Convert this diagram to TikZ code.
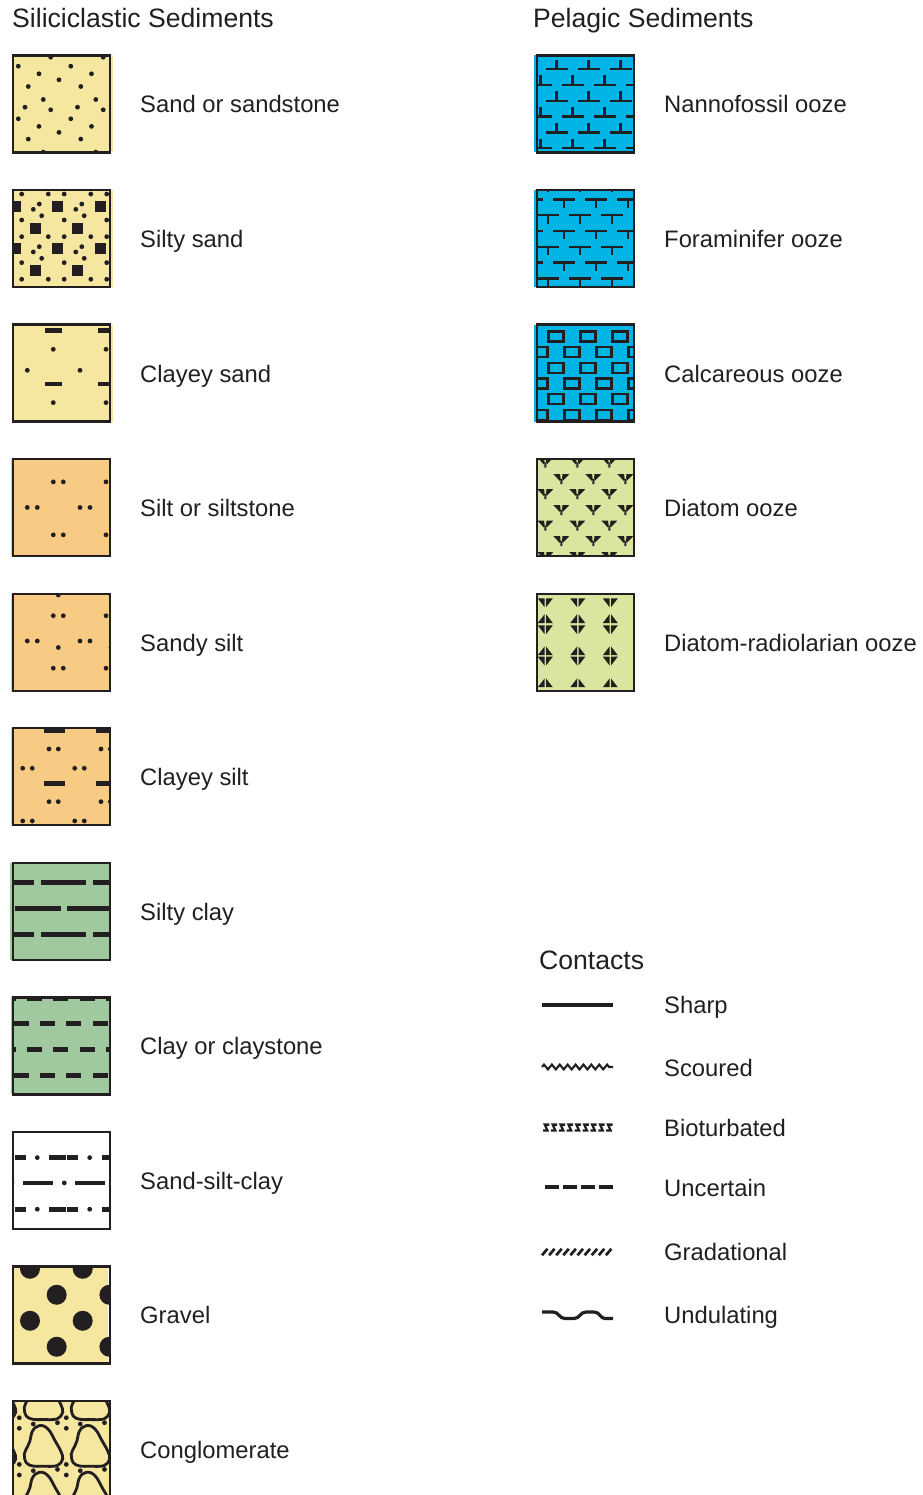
\documentclass[tikz,border=0pt]{standalone}
\usepackage{fontspec}
\setmainfont{Liberation Sans}
\usetikzlibrary{decorations.pathmorphing}
\definecolor{ink}{RGB}{35,31,32}
\definecolor{sandY}{RGB}{246,231,160}
\definecolor{siltO}{RGB}{248,203,133}
\definecolor{clayG}{RGB}{161,201,159}
\definecolor{oozeB}{RGB}{0,180,230}
\definecolor{diatG}{RGB}{218,230,160}
\tikzset{
 sym/.style={draw=ink, line width=2.4pt},
 frame/.style={draw=ink, line width=2.3pt, minimum width=97pt, minimum height=97pt, inner sep=0pt, outer sep=0pt},
 lbl/.style={anchor=base west, inner sep=0pt, font=\fontsize{23.8}{28}\selectfont, text=ink},
 hdr/.style={anchor=base west, inner sep=0pt, font=\fontsize{26.6}{31}\selectfont, text=ink},
}
\newcommand\dt[2]{\fill[ink] (#1,#2) circle (2.4pt);}
\newcommand\sqb[2]{\fill[ink] (#1-5.5,#2-5.5) rectangle ++(11,11);}
\newcommand\hb[4]{\fill[ink] (#1-#3/2,#2-#4/2) rectangle ++(#3,#4);}
\newcommand\tiled[3]{\foreach \tI in {-1,0,1,2}{\foreach \tJ in {-1,0,1,2}{\begin{scope}[shift={(\tI*#1,\tJ*#2)}]#3\end{scope}}}}
\newcommand\mkswatch[6]{%
 \begin{scope}[shift={(#2,#3)}]
  \fill[#4] #5;
  \begin{scope}
   \clip (0,0) rectangle (97,97);
   #6
  \end{scope}
  \node[frame] (#1) at (48.5,48.5) {};
 \end{scope}}
\newcommand\blob[2]{\draw[ink, line width=2.8pt, shift={(#1,#2)}, scale=1.06] plot[smooth cycle, tension=0.6] coordinates {(-4,-19) (1,-18.5) (6,-14) (11,-5) (16.5,5) (18.3,12.5) (13,18.7) (0,19.3) (-10,19) (-16,16) (-18,8) (-15,1) (-12.5,-5) (-11,-12) (-8,-17)};}
\newcommand\invT[2]{\draw[sym] (#1-11,#2) -- (#1+11,#2) (#1,#2) -- (#1,#2-9.5);}
\newcommand\Tee[2]{\draw[sym] (#1-11,#2) -- (#1+11,#2) (#1,#2) -- (#1,#2+8.5);}
\newcommand\crect[2]{\draw[sym] (#1-7.5,#2-5) rectangle (#1+7.5,#2+5);}
\newcommand\diat[2]{\fill[ink] (#1-8,#2) -- (#1-1.2,#2) -- (#1-0.3,#2+8) -- cycle (#1+1.2,#2) -- (#1+8,#2) -- (#1+0.3,#2+8) -- cycle (#1-1,#2+5) rectangle (#1+1,#2+10);}
\newcommand\vdn[2]{\fill[ink] (#1-7.5,#2) -- (#1-0.7,#2) -- (#1-0.7,#2+8.8) -- cycle (#1+0.7,#2) -- (#1+7.5,#2) -- (#1+0.7,#2+8.8) -- cycle;}
\newcommand\vup[2]{\fill[ink] (#1-7.5,#2) -- (#1-0.7,#2) -- (#1-0.7,#2-8.8) -- cycle (#1+0.7,#2) -- (#1+7.5,#2) -- (#1+0.7,#2-8.8) -- cycle;}
\begin{document}
\begin{tikzpicture}[x=1pt,y=-1pt]
\useasboundingbox (0,0) rectangle (922,1495);
\fill[white] (0,0) rectangle (922,1495);
% headers
\node[hdr] (hsil) at (12,27.5) {Siliciclastic Sediments};
\node[hdr] (hpel) at (533,27.5) {Pelagic Sediments};
\node[hdr] (hcon) at (539,969.5) {Contacts};
% ---------- left column ----------
\mkswatch{sand}{13}{55.5}{sandY}{(0,0) rectangle (99.5,97)}{\tiled{52.5}{52.6}{\dt{37.7}{1.7}\dt{5.3}{10.7}\dt{26}{18.3}\dt{46}{24.3}\dt{15.3}{31}\dt{30.3}{44}\dt{12}{51.7}}}
\node[lbl] (lsand) at (140,113) {Sand or sandstone};
\mkswatch{siltysand}{13}{190.05}{sandY}{(0,0) rectangle (99.5,97)}{\tiled{42.5}{42.6}{\sqb{2}{16}\sqb{22}{38.3}\dt{8.7}{4}\dt{35.3}{4}\dt{26.3}{14}\dt{20.3}{19.3}\dt{28.7}{25.7}\dt{8.7}{30}}}
\node[lbl] (lsiltysand) at (140,247.55) {Silty sand};
\mkswatch{clayeysand}{13}{324.6}{sandY}{(0,0) rectangle (99.5,97)}{\tiled{52.7}{53.3}{\hb{40.3}{6}{17}{4.8}\dt{40.3}{24.7}\dt{14.3}{45.7}}}
\node[lbl] (lclayeysand) at (140,382.1) {Clayey sand};
\mkswatch{silt}{13}{459.15}{siltO}{(-2,0) rectangle (97,97)}{\tiled{52.7}{53}{\dt{40.3}{22.7}\dt{50.3}{22.7}\dt{14.3}{48.3}\dt{24.3}{48.3}}}
\node[lbl] (lsilt) at (140,516.65) {Silt or siltstone};
\mkswatch{sandysilt}{13}{593.7}{siltO}{(-2,0) rectangle (97,97)}{\tiled{52.7}{52.5}{\dt{40.3}{22}\dt{50.3}{22}\dt{14.3}{47.3}\dt{24.3}{47.3}\dt{45.3}{1.3}}}
\node[lbl] (lsandysilt) at (140,651.2) {Sandy silt};
\mkswatch{clayeysilt}{13}{728.25}{siltO}{(-2,0) rectangle (97,97)}{\tiled{52}{52.7}{\hb{41.2}{2.3}{21}{4.8}\dt{36}{20.7}\dt{45.3}{20.7}\dt{9.7}{40}\dt{19.3}{40}}}
\node[lbl] (lclayeysilt) at (140,785.75) {Clayey silt};
\mkswatch{siltyclay}{13}{862.8}{clayG}{(-3,0) rectangle (97,97)}{\foreach \k in {-1,0,1}{\hb{50.5+52*\k}{20}{45.4}{4.8}\hb{50.5+52*\k}{72}{45.4}{4.8}\hb{25+52*\k}{46}{45.4}{4.8}}}
\node[lbl] (lsiltyclay) at (140,920.3) {Silty clay};
\mkswatch{clay}{13}{997.35}{clayG}{(-2,0) rectangle (97,97)}{\foreach \k in {-1,...,4}{\hb{21.5+26.4*\k}{1}{15}{4.8}\hb{21.5+26.4*\k}{52.3}{15}{4.8}\hb{8+26.4*\k}{26}{15}{4.8}\hb{8+26.4*\k}{78.5}{15}{4.8}}}
\node[lbl] (lclay) at (140,1054.85) {Clay or claystone};
\mkswatch{ssc}{13}{1131.9}{white}{(0,0) rectangle (97,97)}{\foreach \k in {-1,0,1}{\hb{44.65+52.4*\k}{25.7}{16.7}{4.8}\hb{59.8+52.4*\k}{25.7}{11}{4.8}\dt{24.3+52.4*\k}{25.7}\hb{44.65+52.4*\k}{77.3}{16.7}{4.8}\hb{59.8+52.4*\k}{77.3}{11}{4.8}\dt{24.3+52.4*\k}{77.3}\hb{24.7+52.4*\k}{51}{30}{4.8}\dt{51.3+52.4*\k}{51}}}
\node[lbl] (lssc) at (140,1189.4) {Sand-silt-clay};
\mkswatch{gravel}{13}{1266.45}{sandY}{(0,0) rectangle (95,97)}{\tiled{52.7}{52}{\fill[ink] (17,2.3) circle (10pt); \fill[ink] (43.7,28.3) circle (10pt);}}
\node[lbl] (lgravel) at (140,1323.95) {Gravel};
\mkswatch{cong}{13}{1401}{sandY}{(0,0) rectangle (97,97)}{\tiled{47}{46.7}{\blob{30.3}{-1.9}\dt{6.3}{16.7}\dt{6.3}{27.3}\dt{20.3}{23}\dt{44.5}{21.7}}}
\node[lbl] (lcong) at (140,1458.5) {Conglomerate};
% ---------- right column ----------
\mkswatch{nanno}{537.3}{55.5}{oozeB}{(-3.3,0) rectangle (97,97)}{\foreach \r in {0,2,4}{\foreach \k in {0,1,2}{\invT{19.3+32*\k}{13.7+15.8*\r}}}\foreach \r in {1,3,5}{\foreach \k in {0,1,2,3}{\invT{3.3+32*\k}{13.7+15.8*\r}}}}
\node[lbl] (lnanno) at (664,113) {Nannofossil ooze};
\mkswatch{foram}{537.3}{190.05}{oozeB}{(-3.3,0) rectangle (97,97)}{\foreach \r in {0,2,4}{\foreach \k in {-1,0,1,2}{\Tee{26.9+32*\k}{9.3+15.8*\r}}}\foreach \r in {-1,1,3,5}{\foreach \k in {0,1,2,3}{\Tee{10.4+32*\k}{9.3+15.8*\r}}}}
\node[lbl] (lforam) at (664,247.55) {Foraminifer ooze};
\mkswatch{calc}{537.3}{324.6}{oozeB}{(-3.3,0) rectangle (97,97)}{\foreach \r in {0,2,4}{\foreach \k in {0,1,2}{\crect{18.5+32*\k}{11.7+15.7*\r}}}\foreach \r in {1,3,5}{\foreach \k in {0,1,2,3}{\crect{2.5+32*\k}{11.7+15.7*\r}}}}
\node[lbl] (lcalc) at (664,382.1) {Calcareous ooze};
\mkswatch{diatom}{537.3}{459.15}{diatG}{(0,0) rectangle (97,97)}{\foreach \t in {-1.5,30,61.5,93}{\foreach \k in {0,1,2,3}{\diat{8+32*\k}{\t}}}\foreach \t in {15,46,77}{\foreach \k in {0,1,2}{\diat{24+32*\k}{\t}}}}
\node[lbl] (ldiatom) at (664,516.65) {Diatom ooze};
\mkswatch{radio}{537.3}{593.7}{diatG}{(0,0) rectangle (97,97)}{\foreach \c in {8,40.5,73}{\vdn{\c}{4.7}\vup{\c}{29.3}\vdn{\c}{31.7}\vup{\c}{61.5}\vdn{\c}{63}\vup{\c}{93.5}}}
\node[lbl] (lradio) at (664,651.2) {Diatom-radiolarian ooze};
% ---------- contacts ----------
\draw[ink, line width=4pt] (541.7,1005.3) -- (612.7,1005.3);
\node[lbl] (lsharp) at (664,1013.5) {Sharp};
\draw[ink, line width=2.1pt, decorate, decoration={zigzag, segment length=7.9pt, amplitude=2.4pt}] (542,1067) -- (613,1067);
\node[lbl] (lscour) at (664,1076.5) {Scoured};
\foreach \k in {0,...,8}{\draw[ink, line width=2.3pt] (543+7.9*\k+6.3,1124.6) -- (543+7.9*\k+1.8,1124.6) -- (543+7.9*\k+4.4,1130.4) -- (543+7.9*\k,1130.4);}
\node[lbl] (lbiot) at (664,1136.5) {Bioturbated};
\draw[ink, line width=4pt, dash pattern=on 13.9pt off 4pt] (545.3,1187.3) -- (613,1187.3);
\node[lbl] (lunc) at (664,1196.5) {Uncertain};
\foreach \k in {0,...,9}{\draw[ink, line width=2.7pt] (542+7.1*\k,1255.2) -- (542+7.1*\k+5.5,1248.8);}
\node[lbl] (lgrad) at (664,1260.5) {Gradational};
\draw[ink, line width=3.2pt] (542,1312) -- (553,1312) .. controls (559,1312) and (559,1318.5) .. (565,1318.5) -- (574,1318.5) .. controls (580,1318.5) and (580,1312) .. (586,1312) -- (594,1312) .. controls (600,1312) and (600,1318.5) .. (605,1318.5) -- (613,1318.5);
\node[lbl] (lund) at (664,1323.5) {Undulating};
\end{tikzpicture}
\end{document}
